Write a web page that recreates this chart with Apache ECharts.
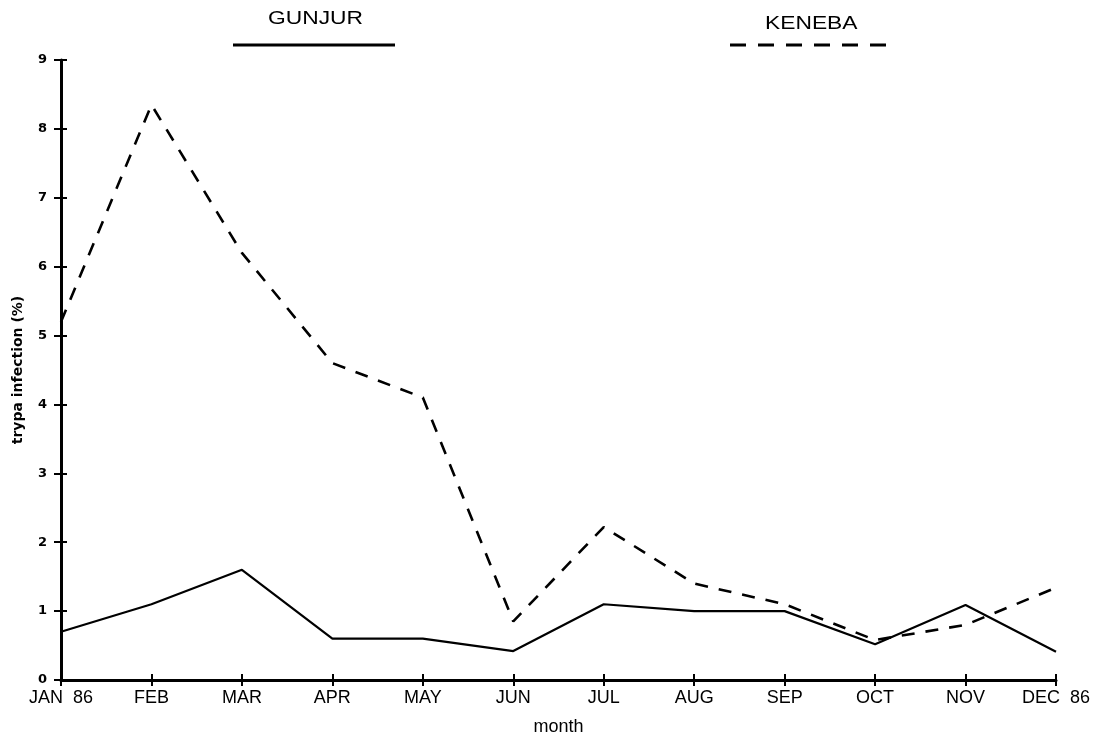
<!DOCTYPE html>
<html><head><meta charset="utf-8">
<script src="https://cdn.jsdelivr.net/npm/echarts@6/dist/echarts.min.js"></script>
<style>html,body{margin:0;padding:0;background:#fff}#c{width:1100px;height:742px}</style>
</head><body><div id="c"></div>
<script>
const months = ['JAN  86','FEB','MAR','APR','MAY','JUN','JUL','AUG','SEP','OCT','NOV','DEC  86'];
const gunjur = [0.7, 1.1, 1.6, 0.6, 0.6, 0.42, 1.1, 1.0, 1.0, 0.52, 1.09, 0.41];
const keneba = [5.2, 8.35, 6.2, 4.6, 4.1, 0.85, 2.22, 1.4, 1.1, 0.58, 0.8, 1.34];
const yTicks = [0,1,2,3,4,5,6,7,8,9];

const chart = echarts.init(document.getElementById('c'));
const font = 'Liberation Sans';
chart.setOption({
  animation:false,
  backgroundColor:'#fff',
  grid:{left:61,right:44,top:60,bottom:62},
  xAxis:[{
    type:'category', data:months, boundaryGap:false,
    name:'month', nameLocation:'middle', nameGap:38,
    nameTextStyle:{fontFamily:font,fontSize:18,color:'#000'},
    axisLine:{lineStyle:{color:'#000',width:3}},
    axisTick:{show:true,length:6,lineStyle:{color:'#000',width:2}},
    axisLabel:{fontFamily:font,fontSize:18,color:'#000',margin:9,interval:0},
    splitLine:{show:false}
  },{
    type:'category', data:months, boundaryGap:false, position:'bottom',
    axisLine:{show:false},
    axisTick:{show:true,inside:true,length:6,lineStyle:{color:'#000',width:2}},
    axisLabel:{show:false}, splitLine:{show:false}
  }],
  yAxis:[{
    type:'value', min:0, max:9, interval:1,
    name:'trypa infection (%)', nameLocation:'middle', nameGap:36,
    nameTextStyle:{fontFamily:'DejaVu Sans',fontSize:14,fontWeight:'bold',color:'#000'},
    axisLine:{show:true,lineStyle:{color:'#000',width:3}},
    axisTick:{show:true,length:7,lineStyle:{color:'#000',width:2}},
    axisLabel:{fontFamily:'DejaVu Sans',fontSize:13,fontWeight:'bold',color:'#000',margin:14,
      formatter:v=>yTicks.includes(v)?String(v):''},
    splitLine:{show:false}
  },{
    type:'value', min:0, max:9, interval:1, position:'left',
    axisLine:{show:false},
    axisTick:{show:true,inside:true,length:6,lineStyle:{color:'#000',width:2}},
    axisLabel:{show:false}, splitLine:{show:false}
  }],
  series:[
    {name:'GUNJUR', type:'line', data:gunjur, symbol:'none',
     lineStyle:{color:'#000',width:2.2,type:'solid'}},
    {name:'KENEBA', type:'line', data:keneba, symbol:'none',
     lineStyle:{color:'#000',width:2.6,type:[13,11]}}
  ],
  graphic:[
    {type:'text',x:268,y:9,scaleX:1.2,style:{text:'GUNJUR',fontFamily:font,fontSize:19,fill:'#000',textAlign:'left',textVerticalAlign:'top'}},
    {type:'line',shape:{x1:233,y1:45,x2:395,y2:45},style:{stroke:'#000',lineWidth:3}},
    {type:'text',x:765,y:14,scaleX:1.2,style:{text:'KENEBA',fontFamily:font,fontSize:19,fill:'#000',textAlign:'left',textVerticalAlign:'top'}},
    {type:'line',shape:{x1:730,y1:45,x2:886,y2:45},style:{stroke:'#000',lineWidth:3,lineDash:[16,12]}}
  ]
});
</script></body></html>
